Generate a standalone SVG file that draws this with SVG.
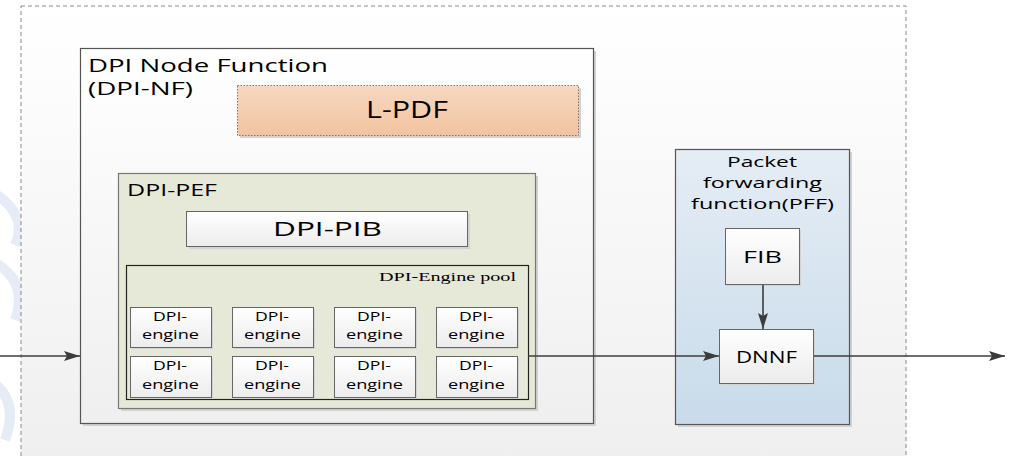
<svg xmlns="http://www.w3.org/2000/svg" width="1021" height="456" viewBox="0 0 1021 456">
<defs>
  <linearGradient id="gBg" x1="0" y1="0" x2="0" y2="1">
    <stop offset="0" stop-color="#ffffff"/><stop offset="1" stop-color="#efefef"/>
  </linearGradient>
  <linearGradient id="gNf" x1="0" y1="0" x2="0" y2="1">
    <stop offset="0" stop-color="#ffffff"/><stop offset="1" stop-color="#efefef"/>
  </linearGradient>
  <linearGradient id="gPdf" x1="0" y1="0" x2="0" y2="1">
    <stop offset="0" stop-color="#f6d8c0"/><stop offset="1" stop-color="#f2c3a0"/>
  </linearGradient>
  <linearGradient id="gPff" x1="0" y1="0" x2="0" y2="1">
    <stop offset="0" stop-color="#e5edf5"/><stop offset="1" stop-color="#c8dbea"/>
  </linearGradient>
  <linearGradient id="gBox" x1="0" y1="0" x2="0" y2="1">
    <stop offset="0" stop-color="#ffffff"/><stop offset="1" stop-color="#ececec"/>
  </linearGradient>
  <marker id="arr" viewBox="0 0 16 10" refX="16" refY="5" markerWidth="16" markerHeight="10" markerUnits="userSpaceOnUse" orient="auto">
    <path d="M0,0 L16,5 L0,10 L3,5 Z" fill="#3c3c3c"/>
  </marker>
</defs>
<style>
  .sans{font-family:"Open Sans","Noto Sans","DejaVu Sans",sans-serif;fill:#000}
  .serif{font-family:"Liberation Serif","Times New Roman",serif;fill:#000}
  .shadow{fill:#d2d2d2}
  .box{fill:url(#gBox);stroke:#666;stroke-width:1}
  .conn{stroke:#3c3c3c;stroke-width:1.6;fill:none}
  .eng{font-size:12px}
</style>
<rect x="0" y="0" width="1021" height="456" fill="#ffffff"/>
<g id="watermark" fill="none" stroke="#dfe8f4" stroke-width="10" opacity="0.8">
  <path d="M-10,190 Q30,215 15,245"/>
  <path d="M-10,260 Q30,280 15,320"/>
  <path d="M-10,380 Q20,400 5,440"/>
</g>
<g id="outer">
  <rect x="21" y="6" width="885" height="460" fill="url(#gBg)" stroke="#888" stroke-width="1" stroke-dasharray="4,3"/>
</g>
<g id="dpi-nf">
  <rect x="83" y="51" width="513" height="375" class="shadow"/>
  <rect x="80.5" y="48.5" width="513" height="375" fill="url(#gNf)" stroke="#555" stroke-width="1.2"/>
  <text x="88" y="72" class="sans" font-size="17.5" textLength="240" lengthAdjust="spacingAndGlyphs">DPI Node Function</text>
  <text x="88" y="95" class="sans" font-size="17.5" textLength="105" lengthAdjust="spacingAndGlyphs">(DPI-NF)</text>
</g>
<g id="l-pdf">
  <rect x="240" y="88" width="341" height="50" class="shadow"/>
  <rect x="237.5" y="85.5" width="341" height="50" fill="url(#gPdf)" stroke="#8a7060" stroke-width="1" stroke-dasharray="1.5,1.5"/>
  <text x="366" y="118" class="sans" font-size="23" textLength="82" lengthAdjust="spacingAndGlyphs">L-PDF</text>
</g>
<g id="dpi-pef">
  <rect x="121" y="176" width="417" height="235" class="shadow"/>
  <rect x="118.5" y="173.5" width="417" height="235" fill="#e7e9d8" stroke="#777" stroke-width="1.2"/>
  <text x="127" y="196" class="sans" font-size="15.5" textLength="90" lengthAdjust="spacingAndGlyphs">DPI-PEF</text>
</g>
<g id="dpi-pib">
  <rect x="189" y="214" width="281" height="35" class="shadow"/>
  <rect x="186.5" y="211.5" width="281" height="35" class="box"/>
  <text x="273" y="236" class="sans" font-size="20" textLength="109" lengthAdjust="spacingAndGlyphs">DPI-PIB</text>
</g>
<g id="engine-pool">
  <rect x="126.5" y="265.5" width="402" height="134" fill="none" stroke="#222" stroke-width="1.2"/>
  <text x="379" y="281" class="serif" font-size="12.5" textLength="137" lengthAdjust="spacingAndGlyphs">DPI-Engine pool</text>
</g>
<g id="engine-1"><rect x="132" y="309" width="81" height="40" class="shadow"/><rect x="130.5" y="307.5" width="81" height="40" class="box"/><text x="153" y="321" class="sans eng" textLength="34" lengthAdjust="spacingAndGlyphs">DPI-</text><text x="142" y="339" class="sans eng" textLength="57" lengthAdjust="spacingAndGlyphs">engine</text></g>
<g id="engine-2"><rect x="234" y="309" width="81" height="40" class="shadow"/><rect x="232.5" y="307.5" width="81" height="40" class="box"/><text x="255" y="321" class="sans eng" textLength="34" lengthAdjust="spacingAndGlyphs">DPI-</text><text x="244" y="339" class="sans eng" textLength="57" lengthAdjust="spacingAndGlyphs">engine</text></g>
<g id="engine-3"><rect x="336" y="309" width="81" height="40" class="shadow"/><rect x="334.5" y="307.5" width="81" height="40" class="box"/><text x="357" y="321" class="sans eng" textLength="34" lengthAdjust="spacingAndGlyphs">DPI-</text><text x="346" y="339" class="sans eng" textLength="57" lengthAdjust="spacingAndGlyphs">engine</text></g>
<g id="engine-4"><rect x="438" y="309" width="81" height="40" class="shadow"/><rect x="436.5" y="307.5" width="81" height="40" class="box"/><text x="459" y="321" class="sans eng" textLength="34" lengthAdjust="spacingAndGlyphs">DPI-</text><text x="448" y="339" class="sans eng" textLength="57" lengthAdjust="spacingAndGlyphs">engine</text></g>
<g id="engine-5"><rect x="132" y="358" width="81" height="41" class="shadow"/><rect x="130.5" y="356.5" width="81" height="41" class="box"/><text x="153" y="370" class="sans eng" textLength="34" lengthAdjust="spacingAndGlyphs">DPI-</text><text x="142" y="389" class="sans eng" textLength="57" lengthAdjust="spacingAndGlyphs">engine</text></g>
<g id="engine-6"><rect x="234" y="358" width="81" height="41" class="shadow"/><rect x="232.5" y="356.5" width="81" height="41" class="box"/><text x="255" y="370" class="sans eng" textLength="34" lengthAdjust="spacingAndGlyphs">DPI-</text><text x="244" y="389" class="sans eng" textLength="57" lengthAdjust="spacingAndGlyphs">engine</text></g>
<g id="engine-7"><rect x="336" y="358" width="81" height="41" class="shadow"/><rect x="334.5" y="356.5" width="81" height="41" class="box"/><text x="357" y="370" class="sans eng" textLength="34" lengthAdjust="spacingAndGlyphs">DPI-</text><text x="346" y="389" class="sans eng" textLength="57" lengthAdjust="spacingAndGlyphs">engine</text></g>
<g id="engine-8"><rect x="438" y="358" width="81" height="41" class="shadow"/><rect x="436.5" y="356.5" width="81" height="41" class="box"/><text x="459" y="370" class="sans eng" textLength="34" lengthAdjust="spacingAndGlyphs">DPI-</text><text x="448" y="389" class="sans eng" textLength="57" lengthAdjust="spacingAndGlyphs">engine</text></g>
<g id="pff">
  <rect x="678" y="152" width="174" height="275" class="shadow"/>
  <rect x="675.5" y="149.5" width="174" height="275" fill="url(#gPff)" stroke="#555" stroke-width="1.2"/>
  <text x="727" y="167" class="sans" font-size="15" textLength="70" lengthAdjust="spacingAndGlyphs">Packet</text>
  <text x="703" y="188" class="sans" font-size="15" textLength="119" lengthAdjust="spacingAndGlyphs">forwarding</text>
  <text x="691" y="209" class="sans" font-size="15" textLength="143" lengthAdjust="spacingAndGlyphs">function(PFF)</text>
</g>
<g id="fib">
  <rect x="727" y="230" width="74" height="56" class="shadow"/>
  <rect x="725.5" y="228.5" width="74" height="56" class="box"/>
  <text x="743" y="263" class="sans" font-size="17" textLength="39" lengthAdjust="spacingAndGlyphs">FIB</text>
</g>
<g id="dnnf">
  <rect x="721" y="331" width="94" height="54" class="shadow"/>
  <rect x="719.5" y="329.5" width="94" height="54" class="box"/>
  <text x="736" y="362.5" class="sans" font-size="16" textLength="61" lengthAdjust="spacingAndGlyphs">DNNF</text>
</g>
<g id="connectors">
  <line x1="0" y1="356" x2="80" y2="356" class="conn" marker-end="url(#arr)"/>
  <line x1="528" y1="356" x2="719" y2="356" class="conn" marker-end="url(#arr)"/>
  <line x1="763" y1="285" x2="763" y2="329" class="conn" marker-end="url(#arr)"/>
  <line x1="814" y1="356" x2="1005" y2="356" class="conn" marker-end="url(#arr)"/>
</g>
</svg>
